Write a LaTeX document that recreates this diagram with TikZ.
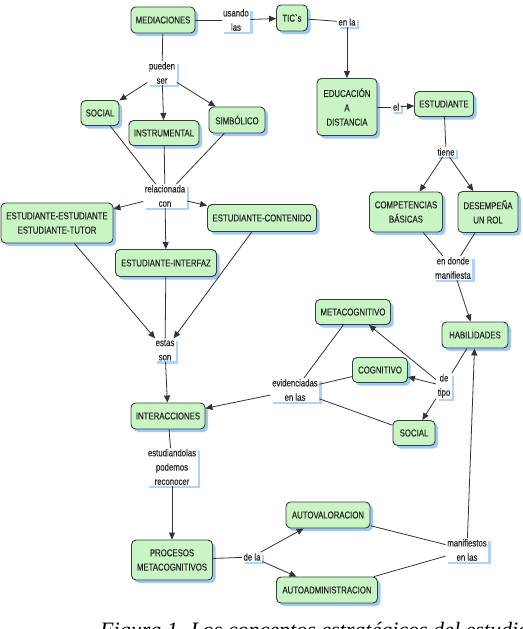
\documentclass[tikz,border=0pt]{standalone}
\usepackage{fontspec}
\newfontfamily\mapafont[FakeStretch=0.78,FakeBold=0.35]{Liberation Sans}
\newfontfamily\piefont{Liberation Serif}
\usetikzlibrary{arrows.meta,shadows}
\definecolor{verdecon}{HTML}{C9F5C4}
\definecolor{bordecon}{HTML}{3C3C3C}
\definecolor{sombraazul}{HTML}{9DC9F7}
\definecolor{sombraenl}{HTML}{AED3FA}
\definecolor{lineagris}{HTML}{333333}
\definecolor{textogris}{HTML}{262626}

\begin{document}
\begin{tikzpicture}[x=1pt,y=-1pt,
	concepto/.style={draw=bordecon, line width=0.9pt, fill=verdecon, rounded corners=4.5pt, inner sep=0pt, align=center, text=textogris, font=\mapafont\fontsize{10}{14.3}\selectfont, drop shadow={shadow xshift=3pt, shadow yshift=-3pt, fill=sombraazul, opacity=1}},
	enlace/.style={fill=white, inner xsep=1.5pt, inner ysep=1pt, align=center, text=textogris, font=\mapafont\fontsize{10}{14.3}\selectfont, drop shadow={shadow xshift=2.5pt, shadow yshift=-2.5pt, fill=sombraenl, opacity=1}},
	linea/.style={draw=lineagris, line width=0.8pt},
	flecha/.style={linea, -{Triangle[length=7pt,width=6pt]}}]
			%%%%% START %%%%%
			
			\useasboundingbox (0,0) rectangle (522,629);
			\clip (0,0) rectangle (522,629);
			
			\node[concepto, minimum width=64pt, minimum height=26pt] (med) at (163,20) {MEDIACIONES};
			\node[concepto, minimum width=31pt, minimum height=26pt] (tic) at (292,18) {TIC`s};
			\node[concepto, minimum width=60pt, minimum height=57pt] (edu) at (347,107) {EDUCACIÓN\\A\\DISTANCIA};
			\node[concepto, minimum width=59pt, minimum height=25pt] (est) at (444,104) {ESTUDIANTE};
			\node[concepto, minimum width=73pt, minimum height=40pt] (comp) at (406,212) {COMPETENCIAS\\BÁSICAS};
			\node[concepto, minimum width=60pt, minimum height=41pt] (des) at (488,212) {DESEMPEÑA\\UN ROL};
			\node[concepto, minimum width=66pt, minimum height=26pt] (hab) at (475,335) {HABILIDADES};
			\node[concepto, minimum width=75pt, minimum height=25pt] (meta) at (353,312) {METACOGNITIVO};
			\node[concepto, minimum width=55pt, minimum height=25pt] (cog) at (380,370) {COGNITIVO};
			\node[concepto, minimum width=42pt, minimum height=25pt] (socb) at (414,433) {SOCIAL};
			
			\node[concepto, minimum width=38pt, minimum height=25pt] (soc) at (100,113) {SOCIAL};
			\node[concepto, minimum width=70pt, minimum height=25pt] (ins) at (164,133) {INSTRUMENTAL};
			\node[concepto, minimum width=56pt, minimum height=26pt] (sim) at (237,120) {SIMBÓLICO};
			\node[concepto, minimum width=112pt, minimum height=40pt] (ee) at (57,223) {ESTUDIANTE-ESTUDIANTE\\ESTUDIANTE-TUTOR};
			\node[concepto, minimum width=109pt, minimum height=27pt] (ec) at (262,218) {ESTUDIANTE-CONTENIDO};
			\node[concepto, minimum width=101pt, minimum height=27pt] (ei) at (166,263) {ESTUDIANTE-INTERFAZ};
			\node[concepto, minimum width=74pt, minimum height=26pt] (inter) at (168,416) {INTERACCIONES};
			\node[concepto, minimum width=81pt, minimum height=40pt] (proc) at (172,560) {PROCESOS\\METACOGNITIVOS};
			\node[concepto, minimum width=84pt, minimum height=26pt] (autov) at (328,515) {AUTOVALORACION};
			\node[concepto, minimum width=101pt, minimum height=26pt] (autoa) at (327,590) {AUTOADMINISTRACION};
			
			\node[enlace] (usando) at (236,20) {usando\\las};
			\node[enlace] (enla) at (347,22) {en la};
			\node[enlace] (el) at (396,107) {el};
			\node[enlace] (tiene) at (446,152) {tiene};
			\node[enlace] (endonde) at (453,268) {en donde\\manifiesta};
			\node[enlace] (detipo) at (444,386) {de\\tipo};
			\node[enlace] (evid) at (295,390) {evidenciadas\\en las};
			\node[enlace] (pueden) at (162,73) {pueden\\ser};
			\node[enlace] (relac) at (165,196) {relacionada\\con};
			\node[enlace] (estas) at (165,350) {estas\\son};
			\node[enlace] (estud) at (172,467) {estudiandolas\\podemos\\reconocer};
			\node[enlace] (dela) at (252,557) {de la};
			\node[enlace] (manif) at (467,550) {manifiestos\\en las};
			
			\draw[linea] (med) -- (usando);
			\draw[flecha] (usando) -- (tic);
			\draw[linea] (tic) -- (enla);
			\draw[flecha] (enla) -- (edu);
			\draw[linea] (edu) -- (el);
			\draw[flecha] (el) -- (est);
			\draw[linea] (est) -- (tiene);
			\draw[flecha] (tiene) -- (comp);
			\draw[flecha] (tiene) -- (des);
			\draw[linea] (comp) -- (endonde);
			\draw[linea] (des) -- (endonde);
			\draw[flecha] (endonde) -- (hab);
			\draw[linea] (hab) -- (detipo);
			\draw[flecha] (detipo) -- (meta);
			\draw[flecha] (detipo) -- (cog);
			\draw[flecha] (detipo) -- (socb);
			\draw[linea] (meta) -- (evid);
			\draw[linea] (cog) -- (evid);
			\draw[linea] (socb) -- (evid);
			\draw[flecha] (evid) -- (inter);
			
			\draw[linea] (med) -- (pueden);
			\draw[flecha] (pueden) -- (soc);
			\draw[flecha] (pueden) -- (ins);
			\draw[flecha] (pueden) -- (sim);
			\draw[linea] (soc) -- (relac);
			\draw[linea] (ins) -- (relac);
			\draw[linea] (sim) -- (relac);
			\draw[flecha] (relac) -- (ee);
			\draw[flecha] (relac) -- (ei);
			\draw[flecha] (relac) -- (ec);
			\draw[flecha] (ee) -- (estas);
			\draw[linea] (ei) -- (estas);
			\draw[flecha] (ec) -- (estas);
			\draw[flecha] (estas) -- (inter);
			\draw[linea] (inter) -- (estud);
			\draw[flecha] (estud) -- (proc);
			\draw[linea] (proc) -- (dela);
			\draw[flecha] (dela) -- (autov);
			\draw[flecha] (dela) -- (autoa);
			\draw[linea] (autov) -- (manif);
			\draw[linea] (autoa) -- (manif);
			\draw[flecha] (manif) -- (hab);
			
			\node[anchor=base west, inner sep=0pt, font=\piefont\itshape\fontsize{22}{26}\selectfont] (pie) at (100,637.5) {Figura 1. Los conceptos estratégicos del estudio};
			
			%%%%% END %%%%%
\end{tikzpicture}
\end{document}
